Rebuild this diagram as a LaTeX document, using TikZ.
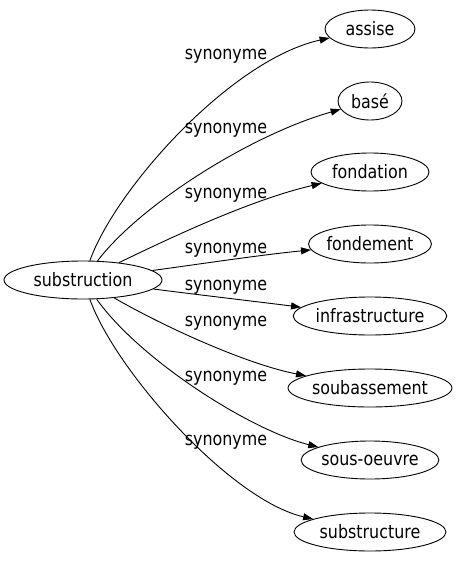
\documentclass[tikz,border=0pt]{standalone}
\usepackage{fontspec}
\setmainfont{DejaVu Sans}[FakeStretch=0.86]
\usetikzlibrary{shapes.geometric,arrows.meta}

\tikzset{
  word/.style={draw, ellipse, inner sep=0pt, minimum height=38pt, font=\fontsize{18.5}{21}\selectfont},
  rel/.style={font=\fontsize{18.5}{21}\selectfont, inner sep=0pt},
  syn/.style={-{Triangle[length=10pt,width=7pt]}, line width=0.9pt}
}

\begin{document}
\begin{tikzpicture}[x=1pt, y=-1pt, line width=0.9pt]
  \useasboundingbox (0,0) rectangle (463,563);

  \node[word, minimum width=158pt] (substruction) at (83,280) {substruction};
  \node[word, minimum width=90pt] (assise) at (370,29) {assise};
  \node[word, minimum width=64pt] (base) at (370,101) {basé};
  \node[word, minimum width=118pt] (fondation) at (370,172) {fondation};
  \node[word, minimum width=114pt] (fondement) at (370,244) {fondement};
  \node[word, minimum width=152pt] (infrastructure) at (370,316) {infrastructure};
  \node[word, minimum width=150pt] (soubassement) at (370,388) {soubassement};
  \node[word, minimum width=130pt] (sousoeuvre) at (370,460) {sous-oeuvre};
  \node[word, minimum width=152pt] (substructure) at (370,532) {substructure};

  % the edges
  \draw[syn] (substruction) .. controls (115,190) and (230,60) .. (assise);
  \draw[syn] (substruction) .. controls (140,205) and (250,135) .. (base);
  \draw[syn] (substruction) .. controls (170,238) and (250,200) .. (fondation);
  \draw[syn] (substruction) .. controls (200,264) and (260,255) .. (fondement);
  \draw[syn] (substruction) .. controls (200,295) and (260,302) .. (infrastructure);
  \draw[syn] (substruction) .. controls (170,330) and (250,365) .. (soubassement);
  \draw[syn] (substruction) .. controls (140,360) and (250,430) .. (sousoeuvre);
  \draw[syn] (substruction) .. controls (115,370) and (230,500) .. (substructure);

  % the labels
  \node[rel] (l1) at (226,56) {synonyme};
  \node[rel] (l2) at (226,130) {synonyme};
  \node[rel] (l3) at (226,195) {synonyme};
  \node[rel] (l4) at (226,250) {synonyme};
  \node[rel] (l5) at (226,287) {synonyme};
  \node[rel] (l6) at (226,323) {synonyme};
  \node[rel] (l7) at (226,378) {synonyme};
  \node[rel] (l8) at (226,442) {synonyme};
\end{tikzpicture}
\end{document}
